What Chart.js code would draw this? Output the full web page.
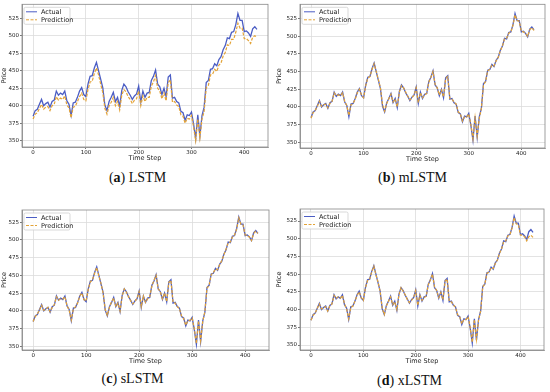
<!DOCTYPE html>
<html>
<head>
<meta charset="utf-8">
<script src="https://cdn.jsdelivr.net/npm/chart.js@4.4.1/dist/chart.umd.min.js"></script>
<style>
    body { margin: 0; background: #fff; width: 550px; height: 392px; position: relative; overflow: hidden; }
    canvas { position: absolute; }
    .cap { position: absolute; width: 275px; text-align: center; line-height: 18px;
           font-family: "Liberation Serif", "DejaVu Serif", serif; font-size: 14px; color: #111; }
</style>
</head>
<body>
<canvas id="chartA" width="275" height="162" style="left:0;top:0"></canvas>
<canvas id="chartB" width="275" height="163" style="left:275px;top:0"></canvas>
<canvas id="chartC" width="275" height="169" style="left:0;top:196px"></canvas>
<canvas id="chartD" width="275" height="169" style="left:275px;top:196px"></canvas>
<div class="cap" style="left:0;top:169px">(<b>a</b>) LSTM</div>
<div class="cap" style="left:275px;top:169px">(<b>b</b>) mLSTM</div>
<div class="cap" style="left:-5px;top:370px">(<b>c</b>) sLSTM</div>
<div class="cap" style="left:272px;top:372px">(<b>d</b>) xLSTM</div>
<script>
const timeSteps = [
    0, 4, 8, 12, 16, 20, 24, 28, 32, 36,
    40, 44, 48, 52, 56, 60, 64, 68, 72, 76,
    80, 84, 88, 92, 96, 100, 104, 108, 112, 116,
    120, 124, 128, 132, 136, 140, 144, 148, 152, 156,
    160, 164, 168, 172, 176, 180, 184, 188, 192, 196,
    200, 204, 208, 212, 216, 220, 224, 228, 232, 236,
    240, 244, 248, 252, 256, 260, 264, 268, 272, 276,
    280, 284, 288, 292, 296, 300, 304, 308, 312, 316,
    320, 324, 328, 332, 336, 340, 344, 348, 352, 356,
    360, 364, 368, 372, 376, 380, 384, 388, 392, 396,
    400, 404, 408, 412, 416, 420, 424
];

const actualPrice = [
    385, 393, 395, 402, 409, 400, 403, 405, 398, 406,
    408, 421, 415, 418, 416, 421, 407, 402, 386, 404,
    405, 412, 421, 426, 416, 413, 431, 442, 443, 454,
    462, 450, 438, 426, 401, 393, 406, 412, 419, 406,
    412, 399, 422, 431, 427, 420, 415, 409, 414, 417,
    428, 405, 421, 412, 418, 419, 436, 442, 451, 431,
    427, 416, 425, 413, 441, 444, 411, 412, 406, 404,
    392, 390, 379, 387, 386, 391, 374, 353, 387, 357,
    386, 398, 433, 436, 452, 453, 460, 457, 466, 470,
    480, 486, 497, 496, 505, 506, 516, 532, 522, 522,
    506, 507, 504, 499, 510, 513, 509
];

const predLSTM = [
    381, 388, 390, 396, 402, 395, 398, 399, 393, 400,
    402, 413, 408, 411, 409, 414, 401, 397, 383, 398,
    399, 406, 413, 418, 409, 407, 423, 434, 435, 446,
    454, 444, 431, 419, 396, 388, 400, 405, 412, 400,
    406, 394, 415, 423, 420, 413, 409, 403, 408, 410,
    421, 400, 414, 406, 412, 412, 428, 434, 443, 425,
    421, 410, 418, 407, 433, 437, 405, 406, 401, 399,
    387, 385, 375, 382, 381, 386, 370, 350, 381, 354,
    381, 392, 426, 429, 444, 445, 452, 449, 458, 461,
    471, 476, 487, 486, 495, 495, 505, 518, 511, 511,
    496, 496, 493, 489, 498, 500, 498
];

const predMLSTM = [
    384, 392, 395, 401, 408, 401, 403, 404, 399, 405,
    408, 420, 416, 417, 416, 420, 408, 402, 388, 403,
    405, 411, 420, 425, 417, 413, 430, 441, 443, 453,
    461, 450, 439, 427, 403, 394, 405, 412, 418, 407,
    411, 400, 421, 430, 427, 421, 415, 410, 413, 417,
    427, 406, 420, 413, 417, 419, 435, 442, 450, 432,
    427, 417, 424, 414, 440, 443, 412, 411, 407, 404,
    393, 390, 380, 386, 386, 390, 375, 355, 385, 359,
    384, 398, 431, 436, 451, 453, 459, 458, 465, 470,
    479, 486, 496, 497, 504, 506, 515, 530, 522, 521,
    507, 506, 504, 500, 509, 512, 508
];

const predSLSTM = [
    385, 392, 396, 401, 408, 401, 402, 405, 399, 405,
    409, 420, 415, 417, 417, 420, 407, 401, 387, 403,
    406, 411, 421, 425, 416, 414, 430, 441, 444, 453,
    461, 449, 439, 425, 402, 394, 405, 413, 418, 406,
    411, 400, 421, 431, 426, 420, 414, 410, 413, 418,
    427, 406, 421, 412, 417, 420, 435, 443, 450, 431,
    427, 417, 425, 413, 440, 443, 412, 411, 406, 403,
    393, 389, 380, 386, 387, 390, 375, 354, 386, 358,
    385, 399, 432, 436, 451, 454, 459, 458, 465, 471,
    479, 487, 496, 497, 504, 507, 515, 531, 522, 521,
    507, 506, 504, 499, 509, 512, 509
];

const predXLSTM = [
    385, 392, 395, 402, 408, 401, 403, 404, 398, 405,
    408, 420, 416, 418, 416, 420, 408, 401, 387, 403,
    405, 412, 420, 425, 417, 413, 431, 441, 443, 453,
    461, 449, 439, 426, 402, 393, 405, 412, 418, 407,
    411, 400, 421, 431, 426, 421, 414, 410, 413, 417,
    427, 406, 420, 413, 417, 419, 435, 442, 450, 432,
    427, 417, 424, 414, 440, 443, 412, 411, 407, 403,
    393, 390, 380, 386, 386, 390, 375, 354, 386, 358,
    385, 398, 432, 436, 451, 453, 459, 458, 465, 470,
    479, 486, 496, 497, 504, 506, 515, 530, 521, 520,
    505, 505, 503, 497, 503, 505, 502
];

const xTicks = [0, 100, 200, 300, 400];
const yTicks = [350, 375, 400, 425, 450, 475, 500, 525];

const actualColor = 'rgba(55, 75, 190, 0.9)';
const predColor = '#e3a337';
const tickFont = { family: 'DejaVu Sans', size: 5.5 };
const titleFont = { family: 'DejaVu Sans', size: 6.5 };

// boxed legend in the upper left corner, like matplotlib's
const boxLegend = {
    id: 'boxLegend',
    afterDraw(chart) {
        const { ctx, chartArea } = chart;
        const x = chartArea.left + 2, y = chartArea.top + 3;
        ctx.save();
        ctx.fillStyle = 'rgba(255,255,255,0.85)';
        ctx.strokeStyle = '#cfcfcf';
        ctx.lineWidth = 0.8;
        ctx.beginPath();
        ctx.roundRect(x, y, 46, 17, 1.5);
        ctx.fill();
        ctx.stroke();
        chart.data.datasets.forEach((ds, i) => {
            const ly = y + 4.5 + i * 8;
            ctx.strokeStyle = ds.borderColor;
            ctx.lineWidth = 1;
            ctx.setLineDash(ds.borderDash || []);
            ctx.beginPath();
            ctx.moveTo(x + 2, ly);
            ctx.lineTo(x + 13, ly);
            ctx.stroke();
            ctx.setLineDash([]);
            ctx.fillStyle = '#222';
            ctx.font = '6.5px "DejaVu Sans"';
            ctx.textBaseline = 'middle';
            ctx.fillText(ds.label, x + 17, ly + 0.5);
        });
        ctx.restore();
    }
};

function toPoints(values) {
    return timeSteps.map((t, i) => ({ x: t, y: values[i] }));
}

function createPanel(canvasId, prediction, area, yMin, yMax) {
    const canvas = document.getElementById(canvasId);
    const ctx = canvas.getContext('2d');
    new Chart(ctx, {
        type: 'line',
        data: {
            datasets: [{
                label: 'Actual',
                data: toPoints(actualPrice),
                borderColor: actualColor,
                borderWidth: 1.3,
                pointRadius: 0,
                tension: 0,
                order: 1
            }, {
                label: 'Prediction',
                data: toPoints(prediction),
                borderColor: predColor,
                borderWidth: 1.2,
                borderDash: [3, 1.5],
                pointRadius: 0,
                tension: 0,
                order: 0
            }]
        },
        options: {
            responsive: false,
            animation: false,
            layout: { padding: { left: 0, top: area.top, right: canvas.width - area.right, bottom: 0 } },
            scales: {
                x: {
                    type: 'linear',
                    min: -21,
                    max: 445,
                    afterBuildTicks: scale => { scale.ticks = xTicks.map(v => ({ value: v })); },
                    afterFit: scale => { scale.height = canvas.height - area.bottom; },
                    grid: { color: '#dcdcdc', lineWidth: 0.8, tickLength: 2, tickColor: '#555' },
                    border: { color: '#888', width: 0.8 },
                    ticks: { font: tickFont, color: '#222', padding: 0, maxRotation: 0, autoSkip: false },
                    title: { display: true, text: 'Time Step', font: titleFont, color: '#222', padding: 0 }
                },
                y: {
                    min: yMin,
                    max: yMax,
                    afterBuildTicks: scale => { scale.ticks = yTicks.map(v => ({ value: v })); },
                    afterFit: scale => { scale.width = area.left; },
                    grid: { color: '#dcdcdc', lineWidth: 0.8, tickLength: 2, tickColor: '#555' },
                    border: { color: '#888', width: 0.8 },
                    ticks: { font: tickFont, color: '#222', padding: 1, autoSkip: false },
                    title: { display: true, text: 'Price', font: titleFont, color: '#222', padding: 0 }
                }
            },
            plugins: {
                legend: { display: false },
                tooltip: { enabled: false }
            }
        },
        plugins: [boxLegend, {
            id: 'frame',
            afterDraw(chart) {
                const { ctx, chartArea: a } = chart;
                ctx.save();
                ctx.strokeStyle = '#888';
                ctx.lineWidth = 0.8;
                ctx.strokeRect(a.left, a.top, a.right - a.left, a.bottom - a.top);
                ctx.restore();
            }
        }]
    });
}

createPanel('chartA', predLSTM, { left: 22, right: 268, top: 4, bottom: 147 }, 341, 545);
createPanel('chartB', predMLSTM, { left: 25, right: 270, top: 4, bottom: 148 }, 342, 545);
createPanel('chartC', predSLSTM, { left: 22, right: 269, top: 14, bottom: 154 }, 345, 542);
createPanel('chartD', predXLSTM, { left: 25, right: 269, top: 13, bottom: 154 }, 343, 542);
</script>
</body>
</html>
